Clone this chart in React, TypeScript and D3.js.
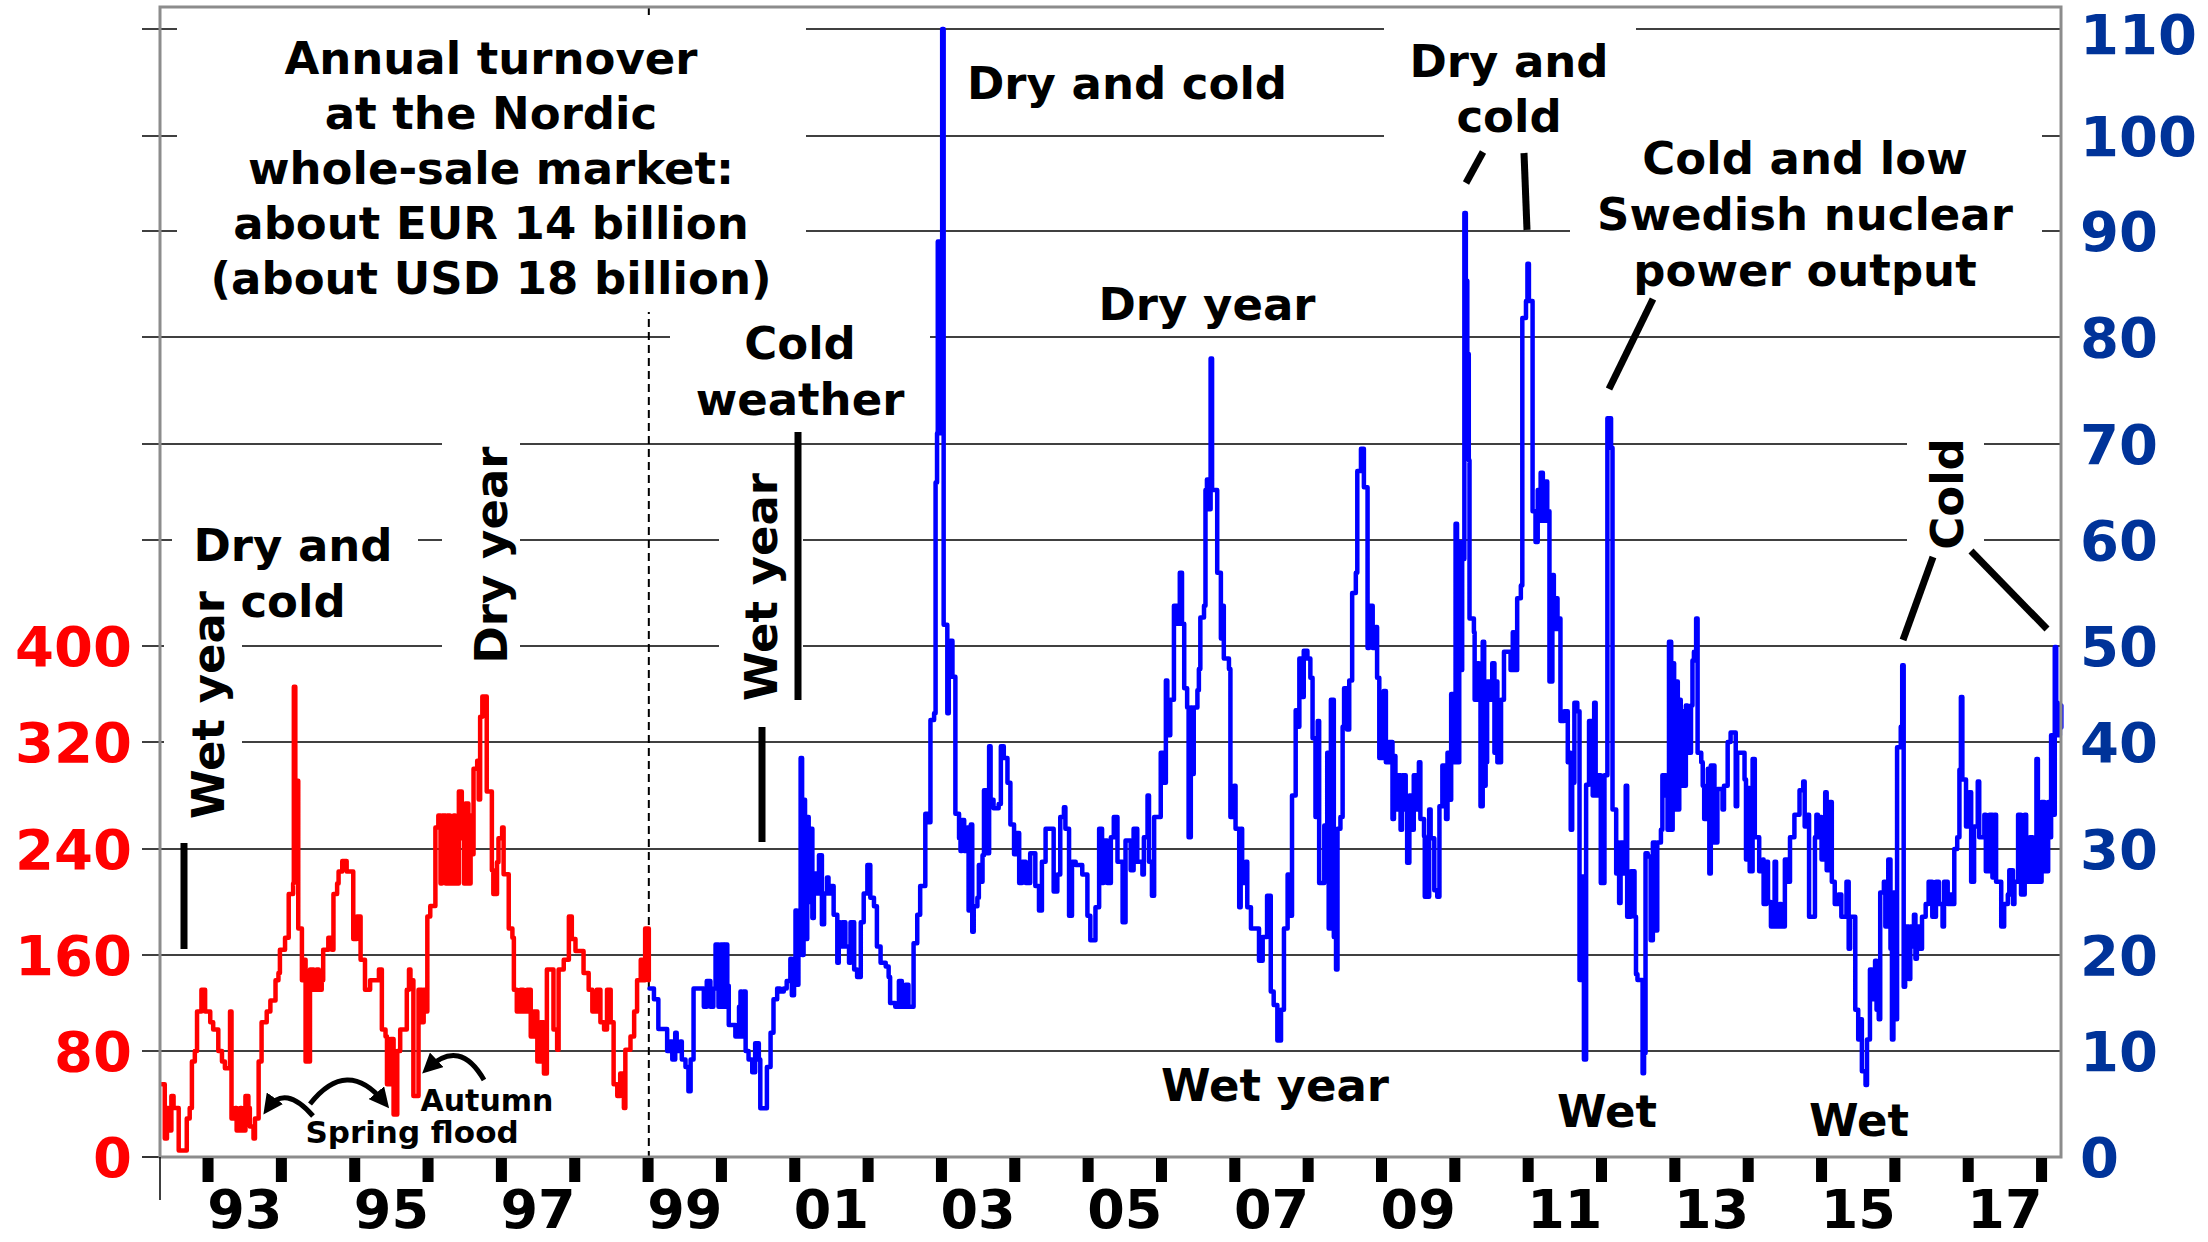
import React from "react";
import * as d3 from "d3";

// Weekly system price, NOK/MWh (left axis), 1992-1998
const redSeries: [number, number][] = [
  [1992.37,55],[1992.41,14],[1992.44,37],[1992.46,20],[1992.50,46],[1992.53,37],[1992.60,5],[1992.71,29],
  [1992.75,37],[1992.78,72],[1992.82,80],[1992.85,113],[1992.91,131],[1992.96,113],[1993.03,104],[1993.07,98],
  [1993.14,80],[1993.19,72],[1993.23,67],[1993.30,113],[1993.32,29],[1993.37,37],[1993.39,20],[1993.44,37],
  [1993.46,20],[1993.51,46],[1993.55,37],[1993.57,23],[1993.62,14],[1993.64,29],[1993.69,72],[1993.73,104],
  [1993.80,113],[1993.85,122],[1993.92,139],[1993.96,145],[1993.98,164],[1994.05,173],[1994.10,206],[1994.16,214],
  [1994.17,366],[1994.19,291],[1994.23,180],[1994.28,139],[1994.30,156],[1994.33,72],[1994.39,148],[1994.44,131],
  [1994.48,148],[1994.51,131],[1994.55,139],[1994.57,164],[1994.64,173],[1994.69,164],[1994.71,206],[1994.76,214],
  [1994.78,223],[1994.83,231],[1994.89,223],[1994.98,172],[1995.03,189],[1995.08,156],[1995.14,131],[1995.21,139],
  [1995.33,148],[1995.37,98],[1995.42,92],[1995.44,55],[1995.49,90],[1995.53,32],[1995.58,80],[1995.62,98],
  [1995.71,131],[1995.74,148],[1995.76,139],[1995.80,46],[1995.87,131],[1995.92,104],[1995.94,131],[1995.96,113],
  [1995.99,189],[1996.03,197],[1996.10,256],[1996.14,265],[1996.17,214],[1996.19,265],[1996.24,214],[1996.26,265],
  [1996.30,214],[1996.35,265],[1996.37,214],[1996.42,283],[1996.46,248],[1996.49,214],[1996.51,274],[1996.55,214],
  [1996.58,265],[1996.60,236],[1996.62,300],[1996.67,306],[1996.69,277],[1996.71,341],[1996.74,358],[1996.80,283],
  [1996.87,224],[1996.89,206],[1996.94,230],[1996.96,248],[1997.01,256],[1997.03,221],[1997.10,180],[1997.15,173],
  [1997.17,131],[1997.21,113],[1997.26,131],[1997.30,113],[1997.35,131],[1997.40,92],[1997.44,113],[1997.49,72],
  [1997.53,104],[1997.58,63],[1997.62,148],[1997.71,98],[1997.76,81],[1997.78,148],[1997.85,156],[1997.92,189],
  [1997.96,172],[1998.01,163],[1998.12,145],[1998.19,131],[1998.24,113],[1998.30,131],[1998.35,104],[1998.40,98],
  [1998.44,131],[1998.49,104],[1998.53,55],[1998.58,46],[1998.62,63],[1998.67,37],[1998.69,81],[1998.76,92],
  [1998.81,113],[1998.85,139],[1998.90,156],[1998.92,139],[1998.96,180],[1999.01,139],
];

// Weekly system price, EUR/MWh (right axis), 1999-2018
const blueSeries: [number, number][] = [
  [1999.02,16.5],[1999.08,15.4],[1999.14,12.3],[1999.26,10],[1999.30,11],[1999.33,9.2],[1999.37,11.9],[1999.39,10],
  [1999.44,11],[1999.46,9.2],[1999.51,8.5],[1999.55,6.2],[1999.58,9.2],[1999.62,16.5],[1999.76,14.6],[1999.80,17.3],
  [1999.85,14.6],[1999.89,16.5],[1999.92,21],[1999.96,14.6],[1999.99,21],[2000.03,14.6],[2000.05,21],[2000.08,16.8],
  [2000.10,12.7],[2000.19,11.5],[2000.24,14.6],[2000.26,16.2],[2000.28,11.5],[2000.30,16.2],[2000.33,10],[2000.37,9.2],
  [2000.42,8],[2000.46,10.8],[2000.51,9.2],[2000.53,4.6],[2000.62,8.5],[2000.67,11.9],[2000.71,15.4],[2000.76,16.5],
  [2000.80,16.2],[2000.85,16.5],[2000.89,17.3],[2000.94,19.6],[2000.96,15.8],[2000.99,19.6],[2001.01,24.2],[2001.03,16.9],
  [2001.05,24.2],[2001.08,38.5],[2001.10,20],[2001.12,34.6],[2001.14,21.5],[2001.17,33],[2001.19,25],[2001.21,31.9],
  [2001.24,23.5],[2001.26,27.7],[2001.30,25.8],[2001.33,29.4],[2001.37,22.9],[2001.40,25.8],[2001.44,27.3],[2001.46,25.8],
  [2001.49,26.5],[2001.53,23.8],[2001.58,19.2],[2001.60,23.1],[2001.62,20.8],[2001.65,23.1],[2001.69,20.8],[2001.74,19.2],
  [2001.76,23.1],[2001.81,18.5],[2001.85,17.7],[2001.90,23.1],[2001.94,25.8],[2001.99,28.5],[2002.03,25.4],[2002.08,24.6],
  [2002.12,20.8],[2002.17,19.2],[2002.24,18.8],[2002.28,17.7],[2002.30,15],[2002.37,14.6],[2002.42,17.3],[2002.46,14.6],
  [2002.51,16.9],[2002.55,14.6],[2002.62,21.1],[2002.67,23.8],[2002.71,26.5],[2002.78,33.3],[2002.83,32.5],[2002.85,42.3],
  [2002.90,43],[2002.92,66],[2002.94,71],[2002.95,89],[2002.99,71],[2003.01,110],[2003.03,52],[2003.08,43],
  [2003.10,47.2],[2003.12,50.5],[2003.15,46.8],[2003.19,33.3],[2003.24,31],[2003.26,29.8],[2003.28,32.7],[2003.31,29.8],
  [2003.35,32],[2003.37,24.2],[2003.40,32.3],[2003.42,22.2],[2003.44,24.6],[2003.49,25.4],[2003.51,28.5],[2003.53,26.9],
  [2003.56,29.4],[2003.58,35.5],[2003.62,29.6],[2003.65,39.6],[2003.67,34.6],[2003.71,33.8],[2003.78,34.2],[2003.81,39.6],
  [2003.85,38.5],[2003.90,36.2],[2003.94,32.3],[2003.99,29.5],[2004.01,31.5],[2004.06,26.8],[2004.10,28.8],[2004.15,26.8],
  [2004.21,29.6],[2004.28,26.5],[2004.33,24.2],[2004.37,28.8],[2004.42,31.9],[2004.53,26],[2004.58,27.6],[2004.62,33],
  [2004.67,33.9],[2004.69,31.9],[2004.74,23.7],[2004.78,28.8],[2004.83,28.5],[2004.92,27.6],[2004.99,23.7],[2005.03,21.4],
  [2005.10,24.5],[2005.15,31.9],[2005.19,26.8],[2005.21,30.8],[2005.26,26.8],[2005.31,31.1],[2005.35,33],[2005.40,28.8],
  [2005.47,23.1],[2005.51,30.8],[2005.58,28],[2005.62,31.9],[2005.67,28.8],[2005.74,27.6],[2005.76,31.1],[2005.81,35],
  [2005.83,28.8],[2005.87,25.6],[2005.90,33],[2005.99,39],[2006.03,36.2],[2006.06,46.4],[2006.08,40.7],[2006.12,44.4],
  [2006.17,53.8],[2006.22,52.1],[2006.25,56.9],[2006.28,52.1],[2006.31,45.6],[2006.35,43.6],[2006.37,31.1],[2006.40,43.6],
  [2006.42,37],[2006.44,43.6],[2006.49,45.4],[2006.51,47.6],[2006.53,52.7],[2006.58,53.8],[2006.60,65.2],[2006.62,66.3],
  [2006.65,63.2],[2006.67,78],[2006.69,65.2],[2006.76,56.9],[2006.81,50.7],[2006.83,53.8],[2006.85,48.7],[2006.92,47.6],
  [2006.94,33],[2006.99,35.9],[2007.01,31.9],[2007.06,24.5],[2007.08,31.9],[2007.10,26.8],[2007.15,28.8],[2007.17,24.5],
  [2007.22,22.5],[2007.33,19.4],[2007.38,21.7],[2007.44,25.6],[2007.49,16.2],[2007.53,14.8],[2007.58,11.1],[2007.63,14.3],
  [2007.67,22.5],[2007.72,27.6],[2007.74,23.7],[2007.78,35],[2007.83,43.3],[2007.85,41.6],[2007.88,48.7],[2007.92,44.7],
  [2007.94,49.5],[2007.99,48.7],[2008.03,46.7],[2008.06,40.4],[2008.10,33],[2008.13,42.2],[2008.15,26.8],[2008.22,32.2],
  [2008.26,39],[2008.28,22.5],[2008.31,44.4],[2008.35,21.7],[2008.38,18.5],[2008.40,31.9],[2008.44,33],[2008.47,41.6],
  [2008.49,45.6],[2008.53,41.3],[2008.56,46.4],[2008.60,55],[2008.65,56.9],[2008.67,67.2],[2008.72,69.5],[2008.76,65.5],
  [2008.81,49.8],[2008.83,53.8],[2008.88,49.8],[2008.92,51.8],[2008.94,46.7],[2008.97,38.5],[2009.03,45.3],[2009.06,38.1],
  [2009.10,40],[2009.15,32.8],[2009.17,38.7],[2009.19,33.7],[2009.22,36.9],[2009.26,31.8],[2009.28,36.9],[2009.33,33.7],
  [2009.35,28.7],[2009.38,35],[2009.42,31.8],[2009.44,36.9],[2009.49,33.7],[2009.51,38.1],[2009.53,32.8],[2009.58,31.2],
  [2009.59,25.5],[2009.65,33.7],[2009.67,31],[2009.72,26.1],[2009.76,25.5],[2009.79,34],[2009.83,37.8],[2009.88,32.8],
  [2009.90,39],[2009.94,34.6],[2009.95,45],[2009.99,38.1],[2010.01,61.7],[2010.03,38.1],[2010.06,59.8],[2010.08,47.5],
  [2010.10,58.2],[2010.13,91.9],[2010.15,85.3],[2010.17,78.4],[2010.19,68.3],[2010.20,52.6],[2010.26,51.3],[2010.27,44.4],
  [2010.31,48.2],[2010.33,46.3],[2010.35,34],[2010.38,50.4],[2010.40,35.9],[2010.42,38.1],[2010.44,46.3],[2010.49,44.4],
  [2010.51,48.2],[2010.54,39],[2010.56,46.3],[2010.58,38.1],[2010.63,44.4],[2010.67,49.4],[2010.76,47.5],[2010.79,51.3],
  [2010.81,47.5],[2010.85,54.5],[2010.90,55.7],[2010.92,81.8],[2010.97,83.4],[2010.99,86.9],[2011.01,83.4],[2011.06,63],
  [2011.10,59.8],[2011.13,65.2],[2011.15,62],[2011.17,67],[2011.20,62],[2011.24,66.1],[2011.26,63],[2011.29,46.3],
  [2011.33,56.7],[2011.35,51.6],[2011.38,54.5],[2011.40,51.6],[2011.42,52.6],[2011.44,42.2],[2011.49,43.2],[2011.54,38.1],
  [2011.56,39],[2011.58,31.8],[2011.60,36.2],[2011.63,44.1],[2011.67,43.2],[2011.70,17.4],[2011.72,27.4],[2011.76,9.2],
  [2011.79,36],[2011.83,42.2],[2011.88,35],[2011.90,44.1],[2011.92,35],[2011.95,36.9],[2011.99,26.8],[2012.04,36.9],
  [2012.08,72.4],[2012.13,69.6],[2012.15,33.7],[2012.20,27.7],[2012.22,30.6],[2012.24,24.9],[2012.26,30.6],[2012.31,27.7],
  [2012.33,35.9],[2012.35,23.6],[2012.40,27.9],[2012.45,23.6],[2012.47,18],[2012.49,17.4],[2012.56,7.9],[2012.58,9.8],
  [2012.60,29.6],[2012.63,29.3],[2012.67,21.4],[2012.70,30.6],[2012.74,22.3],[2012.76,30.6],[2012.81,31.8],[2012.83,36.9],
  [2012.88,35],[2012.90,31.8],[2012.92,50.4],[2012.95,31.8],[2012.97,48.2],[2012.99,33.7],[2013.01,46.3],[2013.04,33.7],
  [2013.06,44.4],[2013.08,35.9],[2013.10,43.2],[2013.13,35.9],[2013.15,43.8],[2013.17,39],[2013.22,43.8],[2013.24,48.5],
  [2013.26,49.4],[2013.29,52.6],[2013.31,39],[2013.36,38.1],[2013.38,35.9],[2013.40,32.8],[2013.45,37.5],[2013.47,27.7],
  [2013.49,37.8],[2013.54,30.6],[2013.58,35.6],[2013.65,33.7],[2013.67,35.9],[2013.72,40],[2013.76,41],[2013.83,34],
  [2013.85,39],[2013.95,36.5],[2013.97,29],[2014.00,35.7],[2014.02,27.9],[2014.06,38.4],[2014.09,31.1],[2014.15,27.9],
  [2014.20,29],[2014.21,24.8],[2014.25,28.8],[2014.27,25],[2014.31,22.7],[2014.36,28.8],[2014.38,22.7],[2014.43,24.8],
  [2014.45,22.7],[2014.50,29],[2014.54,26.9],[2014.57,31.1],[2014.63,33.2],[2014.70,35.5],[2014.75,36.3],[2014.77,32.1],
  [2014.81,33.2],[2014.83,23.6],[2014.89,23.6],[2014.91,31.1],[2014.93,33.2],[2014.95,31.1],[2014.98,33],[2015.00,29],
  [2015.05,35.3],[2015.07,28],[2015.11,34.4],[2015.14,26.9],[2015.18,24.8],[2015.23,25.7],[2015.27,23.6],[2015.34,26.9],
  [2015.37,20.6],[2015.39,23.6],[2015.46,14.3],[2015.50,11.2],[2015.53,13.3],[2015.55,8.1],[2015.60,6.8],[2015.62,11.2],
  [2015.66,18.5],[2015.69,15.4],[2015.73,19.4],[2015.75,14.3],[2015.78,13.3],[2015.80,25.9],[2015.85,26.9],[2015.87,22.7],
  [2015.91,29],[2015.94,20.6],[2015.96,11.2],[2015.98,25.9],[2016.01,13.3],[2016.03,39.5],[2016.08,41.6],[2016.10,48],
  [2016.12,16.7],[2016.14,22.7],[2016.19,17.5],[2016.21,22.7],[2016.24,20.8],[2016.26,23.8],[2016.28,19.6],[2016.30,22.7],
  [2016.35,20.6],[2016.37,23.6],[2016.42,24.8],[2016.46,26.9],[2016.51,23.6],[2016.56,26.9],[2016.60,24.8],[2016.65,22.7],
  [2016.67,26.9],[2016.72,24.8],[2016.76,25.7],[2016.78,24.8],[2016.81,30],[2016.85,31.1],[2016.88,37.4],[2016.90,44.7],
  [2016.92,36.5],[2016.97,32.1],[2017.01,35.3],[2017.04,26.9],[2017.08,32.1],[2017.13,36.3],[2017.15,31.1],[2017.22,33.2],
  [2017.24,27.9],[2017.29,33.2],[2017.33,27.3],[2017.36,33.2],[2017.38,26.9],[2017.45,22.7],[2017.49,24.8],[2017.54,25.7],
  [2017.56,28],[2017.61,24.8],[2017.63,26.9],[2017.68,33.2],[2017.72,25.7],[2017.77,33.2],[2017.79,26.9],[2017.84,31.1],
  [2017.88,26.9],[2017.93,38.4],[2017.95,26.9],[2018.00,34.4],[2018.04,27.9],[2018.09,34.4],[2018.11,31.1],[2018.13,40.7],
  [2018.16,33.2],[2018.18,49.9],[2018.20,44.1],[2018.22,40.7],[2018.25,43.8],[2018.27,41.5],
];

const leftTickValues = [0, 80, 160, 240, 320, 400];
const rightTickValues = [0, 10, 20, 30, 40, 50, 60, 70, 80, 90, 100, 110];
const gridValues = [10, 20, 30, 40, 50, 60, 70, 80, 90, 100, 110];
const yearTicks = d3.range(1993, 2019);
const yearLabelYears = [1993, 1995, 1997, 1999, 2001, 2003, 2005, 2007, 2009, 2011, 2013, 2015, 2017];
const yearLabels = ["93", "95", "97", "99", "01", "03", "05", "07", "09", "11", "13", "15", "17"];
const splitYear = 1999.01;

const FONT = "'DejaVu Sans', Verdana, sans-serif";

export default function App() {
  const L = 160, R = 2061, T = 7, B = 1157;
  const x = d3.scaleLinear().domain([1992.345, 2018.265]).range([L, R]);
  // the original's gridlines are unevenly spaced by a few pixels; follow them piecewise
  const gridPx = [1157, 1051, 955, 849, 742, 646, 540, 444, 337, 231, 136, 29];
  const yR = d3.scaleLinear().domain(rightTickValues).range(gridPx);
  const yL = d3.scaleLinear().domain(rightTickValues.map(v => v * 8)).range(gridPx);

  const redLine = d3.line<[number, number]>().x(d => x(d[0])).y(d => yL(d[1])).curve(d3.curveStepAfter);
  const blueLine = d3.line<[number, number]>().x(d => x(d[0])).y(d => yR(d[1])).curve(d3.curveStepAfter);

  const whiteBoxes = [
    [177, 16, 806, 312],
    [670, 300, 930, 430],
    [172, 505, 418, 630],
    [442, 440, 520, 670],
    [164, 580, 242, 830],
    [719, 460, 803, 712],
    [1384, 15, 1636, 150],
    [1570, 125, 2042, 300],
    [1907, 430, 1984, 560],
  ];

  const block = (lines: string[], cx: number, y0: number, dy: number, size = 45) => (
    <text x={cx} y={y0} textAnchor="middle" fontFamily={FONT} fontWeight="bold" fontSize={size} fill="#000">
      {lines.map((l, i) => (
        <tspan key={i} x={cx} y={y0 + i * dy}>{l}</tspan>
      ))}
    </text>
  );
  const vtext = (s: string, bx: number, cy: number) => (
    <text transform={`translate(${bx},${cy}) rotate(-90)`} textAnchor="middle" fontFamily={FONT}
      fontWeight="bold" fontSize={45} fill="#000">{s}</text>
  );

  const pointers = [
    [184, 843, 184, 949],
    [762, 727, 762, 842],
    [798, 432, 798, 700],
    [1483, 152, 1466, 183],
    [1524, 153, 1527, 230],
    [1653, 299, 1609, 389],
    [1933, 557, 1903, 640],
    [1971, 551, 2047, 629],
  ];

  const arrows = [
    "M313,1116 Q285,1084 268,1108",
    "M310,1104 Q347,1057 384,1102",
    "M484,1080 Q460,1038 428,1068",
  ];

  return (
    <svg width={2208} height={1242} style={{ position: "fixed", left: 0, top: 0, background: "#fff" }}>
      <defs>
        <marker id="ah" viewBox="0 0 10 10" refX="6" refY="5" markerWidth="4" markerHeight="4" orient="auto">
          <path d="M0,0 L10,5 L0,10 z" fill="#000" />
        </marker>
      </defs>
      <rect x={0} y={0} width={2208} height={1242} fill="#fff" />
      {/* gridlines */}
      {gridValues.map(v => (
        <line key={v} x1={142} x2={R} y1={yR(v)} y2={yR(v)} stroke="#000" strokeWidth={1.6} />
      ))}
      <line x1={142} x2={L} y1={B} y2={B} stroke="#000" strokeWidth={1.6} />
      {/* dashed split line */}
      <line x1={x(splitYear)} x2={x(splitYear)} y1={T} y2={B} stroke="#000" strokeWidth={2} strokeDasharray="8,5" />
      {/* white boxes behind annotations */}
      {whiteBoxes.map((b, i) => (
        <rect key={i} x={b[0]} y={b[1]} width={b[2] - b[0]} height={b[3] - b[1]} fill="#fff" />
      ))}
      {/* data */}
      <path d={redLine(redSeries) || ""} fill="none" stroke="#ff0000" strokeWidth={4.5} strokeLinejoin="round" strokeLinecap="round" />
      <path d={blueLine(blueSeries) || ""} fill="none" stroke="#0000ff" strokeWidth={4.5} strokeLinejoin="round" strokeLinecap="round" />
      {/* frame */}
      <rect x={L} y={T} width={R - L} height={B - T} fill="none" stroke="#8c8c8c" strokeWidth={3} />
      <line x1={L} x2={L} y1={B} y2={1200} stroke="#000" strokeWidth={1.5} />
      {/* x ticks */}
      {yearTicks.map(yr => (
        <line key={yr} x1={x(yr)} x2={x(yr)} y1={B + 1} y2={B + 25} stroke="#000" strokeWidth={11} />
      ))}
      {yearLabelYears.map((yr, i) => (
        <text key={yr} x={x(yr + 0.5)} y={1228} textAnchor="middle" fontFamily={FONT} fontWeight="bold" fontSize={54} fill="#000">{yearLabels[i]}</text>
      ))}
      {/* left axis labels */}
      {leftTickValues.map(v => (
        <text key={v} x={132} y={yL(v) + 20} textAnchor="end" fontFamily={FONT} fontWeight="bold" fontSize={56} fill="#ff0000">{v}</text>
      ))}
      {/* right axis labels */}
      {rightTickValues.map(v => (
        <text key={v} x={2080} y={Math.max(yR(v) + 20, 54)} textAnchor="start" fontFamily={FONT} fontWeight="bold" fontSize={56} fill="#003399">{v}</text>
      ))}
      {/* annotations */}
      {block(["Annual turnover", "at the Nordic", "whole-sale market:", "about EUR 14 billion", "(about USD 18 billion)"], 491, 74, 55)}
      {block(["Cold", "weather"], 800, 359, 56)}
      {block(["Dry and", "cold"], 293, 561, 56)}
      {block(["Dry and cold"], 1127, 99, 56)}
      {block(["Dry year"], 1207, 320, 56)}
      {block(["Dry and", "cold"], 1509, 77, 55)}
      {block(["Cold and low", "Swedish nuclear", "power output"], 1805, 174, 56)}
      {block(["Wet year"], 1275, 1101, 56)}
      {block(["Wet"], 1607, 1127, 56)}
      {block(["Wet"], 1859, 1136, 56)}
      {vtext("Wet year", 224, 705)}
      {vtext("Dry year", 507, 555)}
      {vtext("Wet year", 777, 587)}
      {vtext("Cold", 1963, 494)}
      {block(["Autumn"], 487, 1111, 30, 30)}
      {block(["Spring flood"], 412, 1143, 30, 31)}
      {pointers.map((p, i) => (
        <line key={i} x1={p[0]} y1={p[1]} x2={p[2]} y2={p[3]} stroke="#000" strokeWidth={7} />
      ))}
      {arrows.map((d, i) => (
        <path key={i} d={d} fill="none" stroke="#000" strokeWidth={5} markerEnd="url(#ah)" />
      ))}
    </svg>
  );
}
